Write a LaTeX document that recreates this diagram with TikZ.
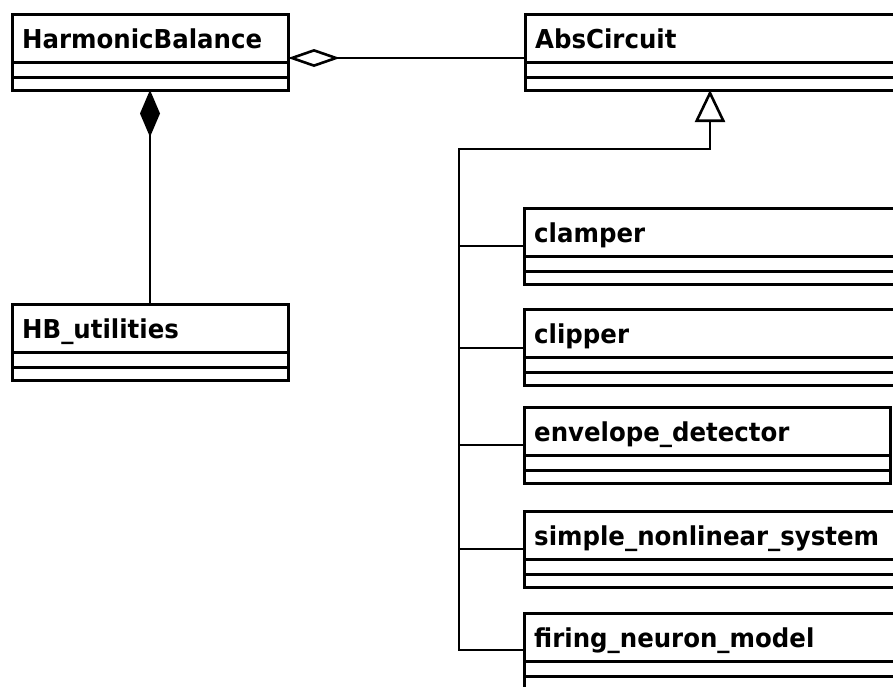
\documentclass[tikz,border=0pt]{standalone}
\usepackage{fontspec}
\setmainfont{DejaVu Sans}
\newfontfamily\classfont[FakeStretch=0.94]{DejaVu Sans Bold}
\usetikzlibrary{arrows.meta,calc}
\tikzset{
  classbox/.style={draw, line width=3pt, rectangle, inner sep=0pt, outer sep=0pt, minimum height=76pt, fill=white},
  compline/.style={line width=3pt},
  classname/.style={anchor=base west, inner sep=0pt, font=\classfont\fontsize{26}{30}\selectfont},
  conn/.style={line width=2.8pt},
  aggr/.style={conn, {Diamond[open, length=52pt, width=18pt, line width=2.6pt]}-},
  compo/.style={conn, {Diamond[length=47pt, width=20pt]}-},
  gener/.style={conn, -{Triangle[open, length=32pt, width=30pt, line width=2.6pt]}},
}
\newcommand\umlclass[5]{%
  \node[classbox, minimum width=#4pt, anchor=north west] (#1) at (#2,#3) {};
  \draw[compline] ($(#1.north west)+(0,48)$) -- ($(#1.north east)+(0,48)$);
  \draw[compline] ($(#1.north west)+(0,63)$) -- ($(#1.north east)+(0,63)$);
  \node[classname] (#1-name) at ($(#1.north west)+(10,34)$) {#5};
}
\begin{document}
\begin{tikzpicture}[x=1pt, y=-1pt]
\useasboundingbox (0,0) rectangle (893,686);
\clip (0,0) rectangle (893,686);
\fill[white] (0,0) rectangle (893,686);

\umlclass{hb}{12}{14}{276}{HarmonicBalance}
\umlclass{abs}{525}{14}{440}{AbsCircuit}
\umlclass{hbu}{12}{304}{276}{HB\_utilities}
\umlclass{clamper}{524}{208}{440}{clamper}
\umlclass{clipper}{524}{309}{440}{clipper}
\umlclass{envdet}{524}{407}{366}{envelope\_detector}
\umlclass{sns}{524}{511}{440}{simple\_nonlinear\_system}
\umlclass{fnm}{524}{613}{440}{firing\_neuron\_model}

% aggregation
\coordinate (aggA) at ($(hb.north east)+(0,44)$);
\draw[aggr] (aggA) -- (abs.west |- aggA);

% composition
\draw[compo] (hb.south) -- (hbu.north);

% generalization
\coordinate (genTip) at ($(abs.south west)+(185,0)$);
\coordinate (trunkTop) at (459,149);
\coordinate (bClamper) at ($(clamper.north west)+(0,38)$);
\coordinate (bClipper) at ($(clipper.north west)+(0,39)$);
\coordinate (bEnv) at ($(envdet.north west)+(0,38)$);
\coordinate (bSns) at ($(sns.north west)+(0,38)$);
\coordinate (bFnm) at ($(fnm.north west)+(0,37)$);
\draw[gener] (bFnm) -| (trunkTop) -| (genTip);
\draw[conn] (bClamper) -- (trunkTop |- bClamper);
\draw[conn] (bClipper) -- (trunkTop |- bClipper);
\draw[conn] (bEnv) -- (trunkTop |- bEnv);
\draw[conn] (bSns) -- (trunkTop |- bSns);
\end{tikzpicture}
\end{document}
